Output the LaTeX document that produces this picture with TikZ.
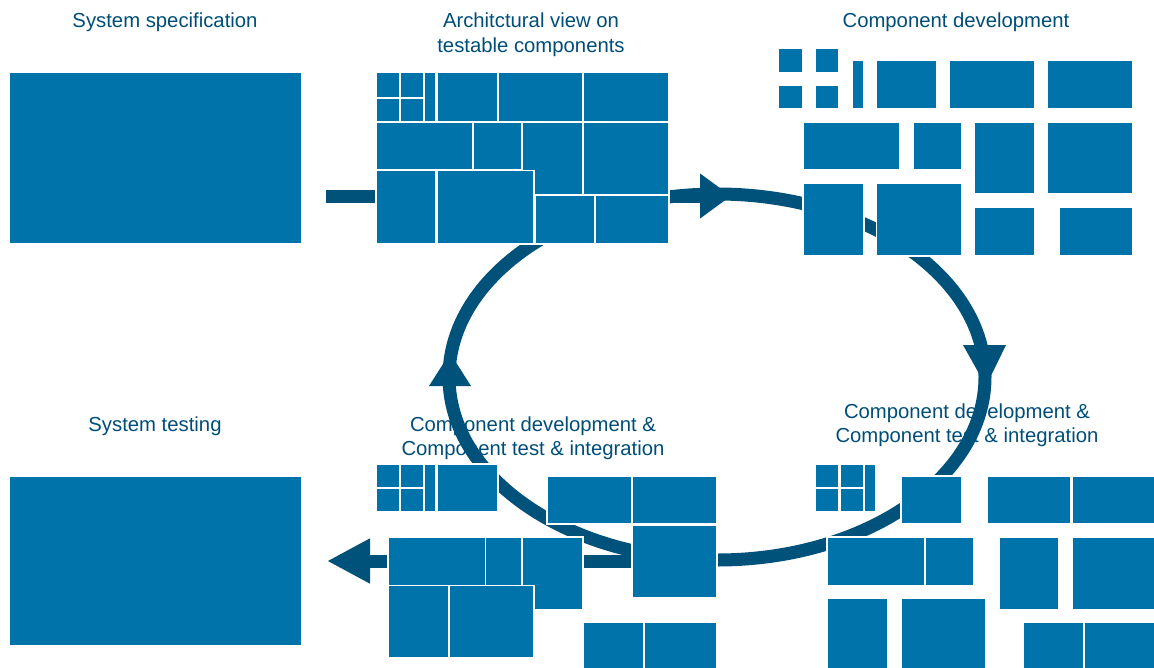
\documentclass[tikz,border=0pt]{standalone}
\usepackage{fontspec}
\setmainfont{Liberation Sans}
\usetikzlibrary{arrows.meta}
\definecolor{blkc}{RGB}{0,115,170}
\definecolor{ringc}{RGB}{0,82,122}
\definecolor{textc}{RGB}{0,78,120}
\tikzset{
  blk/.style={fill=blkc, draw=white, line width=1.8pt},
  bigblk/.style={fill=blkc, inner sep=0pt, outer sep=0pt},
  lbl/.style={text=textc, font=\fontsize{20.3}{24}\selectfont, anchor=base, inner sep=0pt},
  ring/.style={draw=ringc, line width=13pt},
  bar/.style={draw=ringc, line width=13pt, line cap=butt},
  rtip/.style={fill=ringc}
}
\newcommand\blk[4]{\filldraw[blk] ({#1-0.9},{#2-0.9}) rectangle ({#3+0.9},{#4+0.9});}
\begin{document}
\begin{tikzpicture}[x=1pt,y=-1pt]
\useasboundingbox (0,0) rectangle (1154,667);
% titles
\node[lbl] (t1) at (165,27.7) {System specification};
\node[lbl] (t2a) at (531,27.7) {Architctural view on};
\node[lbl] (t2b) at (531,52.3) {testable components};
\node[lbl] (t3) at (956,27.7) {Component development};
\node[lbl] (t4) at (155,431) {System testing};
\node[lbl] (t5a) at (533,431.5) {Component development \&};
\node[lbl] (t5b) at (533,455.5) {Component test \& integration};
\node[lbl] (t6a) at (967,418.3) {Component development \&};
\node[lbl] (t6b) at (967,442.3) {Component test \& integration};
% big blocks
\node[bigblk, minimum width=291pt, minimum height=169.4pt] (spec) at (155.5,158) {};
\node[bigblk, minimum width=291pt, minimum height=168pt] (testing) at (155.5,561) {};
% ring
\draw[ring] (717,377) ellipse [x radius=268, y radius=183];
\coordinate (ringtop) at (731,196);
\coordinate (ringbottom) at (717,561);
\path (spec.east |- ringtop) coordinate (specout);
\draw[bar, shorten <=25pt, -{Triangle[length=31pt,width=43pt]}] (specout) -- (ringtop);
\draw[bar, shorten >=26pt, -{Triangle[length=43pt,width=42pt]}] (ringbottom) -- (testing.east);
\fill[rtip] (963,345) -- (1006,345) -- (986,386) -- cycle;
\fill[rtip] (429,386) -- (471,386) -- (450,353) -- cycle;
% architecture blocks
\blk{376.7}{73.3}{399}{96.7}\blk{401}{73.3}{423.3}{96.7}
\blk{376.7}{98.5}{399}{120.7}\blk{401}{98.5}{423.3}{120.7}
\blk{425.3}{73.3}{435.3}{120.7}\blk{437.7}{73.3}{497}{120.7}
\blk{498.7}{73.3}{582}{120.7}\blk{584}{73.3}{667.7}{120.7}
\blk{376.7}{122.7}{472.3}{169.3}\blk{474}{122.7}{521}{169.3}
\blk{522.7}{122.7}{582}{193.7}\blk{584}{122.7}{667.7}{193.7}
\blk{376.7}{171.3}{435}{242.7}\blk{437.7}{171.3}{533.3}{242.7}
\blk{535.7}{195.7}{594}{242.7}\blk{596}{195.7}{667.7}{242.7}
% component development blocks
\blk{779.3}{49.3}{802}{72}\blk{816}{49.3}{838.3}{72}
\blk{779.3}{86}{802}{108.3}\blk{816}{86}{838.3}{108.3}
\blk{853}{61.3}{862.7}{108.3}\blk{877.3}{61.3}{936.3}{108.3}
\blk{950.3}{61.3}{1033.7}{108.3}\blk{1048.3}{61.3}{1131.7}{108.3}
\blk{803.7}{123}{899.3}{169}\blk{914}{123}{960.7}{169}
\blk{974.7}{123}{1033.7}{193.3}\blk{1048.3}{123}{1131.7}{193.3}
\blk{803.7}{183.7}{862.7}{254.7}\blk{877.3}{183.7}{960.7}{254.7}
\blk{974.7}{208}{1033.7}{254.7}\blk{1060.3}{208}{1131.7}{254.7}
% bottom middle blocks
\blk{376.7}{465}{399}{486.7}\blk{401}{465}{423.3}{486.7}
\blk{376.7}{488.7}{399}{510.7}\blk{401}{488.7}{423.3}{510.7}
\blk{425.3}{465}{435.3}{510.7}\blk{437.7}{465}{497}{510.7}
\blk{547.7}{477}{631}{523.3}\blk{633}{477}{716.3}{523.3}
\blk{633}{525.7}{716.3}{596.7}
\blk{389}{537.7}{485}{584.7}\blk{486.3}{537.7}{521.7}{584.7}
\blk{523}{537.7}{582}{609.3}
\blk{389}{586.3}{447.7}{657.3}\blk{450}{586.3}{533.3}{657.3}
\blk{584.3}{623}{643.3}{680}\blk{645}{623}{716.3}{680}
% bottom right blocks
\blk{816}{465}{838.3}{486.7}\blk{841}{465}{862.7}{486.7}
\blk{816}{489}{838.3}{510.7}\blk{841}{489}{862.7}{510.7}
\blk{865.3}{465}{875}{510.7}
\blk{901.7}{477}{961}{523.3}\blk{987.7}{477}{1070}{523.3}
\blk{1072.7}{477}{1153.7}{523.3}
\blk{828}{537.7}{924.3}{584.7}\blk{926}{537.7}{973}{584.7}
\blk{999.7}{537.7}{1058.3}{609}\blk{1073}{537.7}{1153.7}{609}
\blk{828}{598.7}{887.3}{680}\blk{901.7}{598.7}{985.3}{680}
\blk{1024}{623}{1083}{680}\blk{1085}{623}{1153.7}{680}
\end{tikzpicture}
\end{document}
